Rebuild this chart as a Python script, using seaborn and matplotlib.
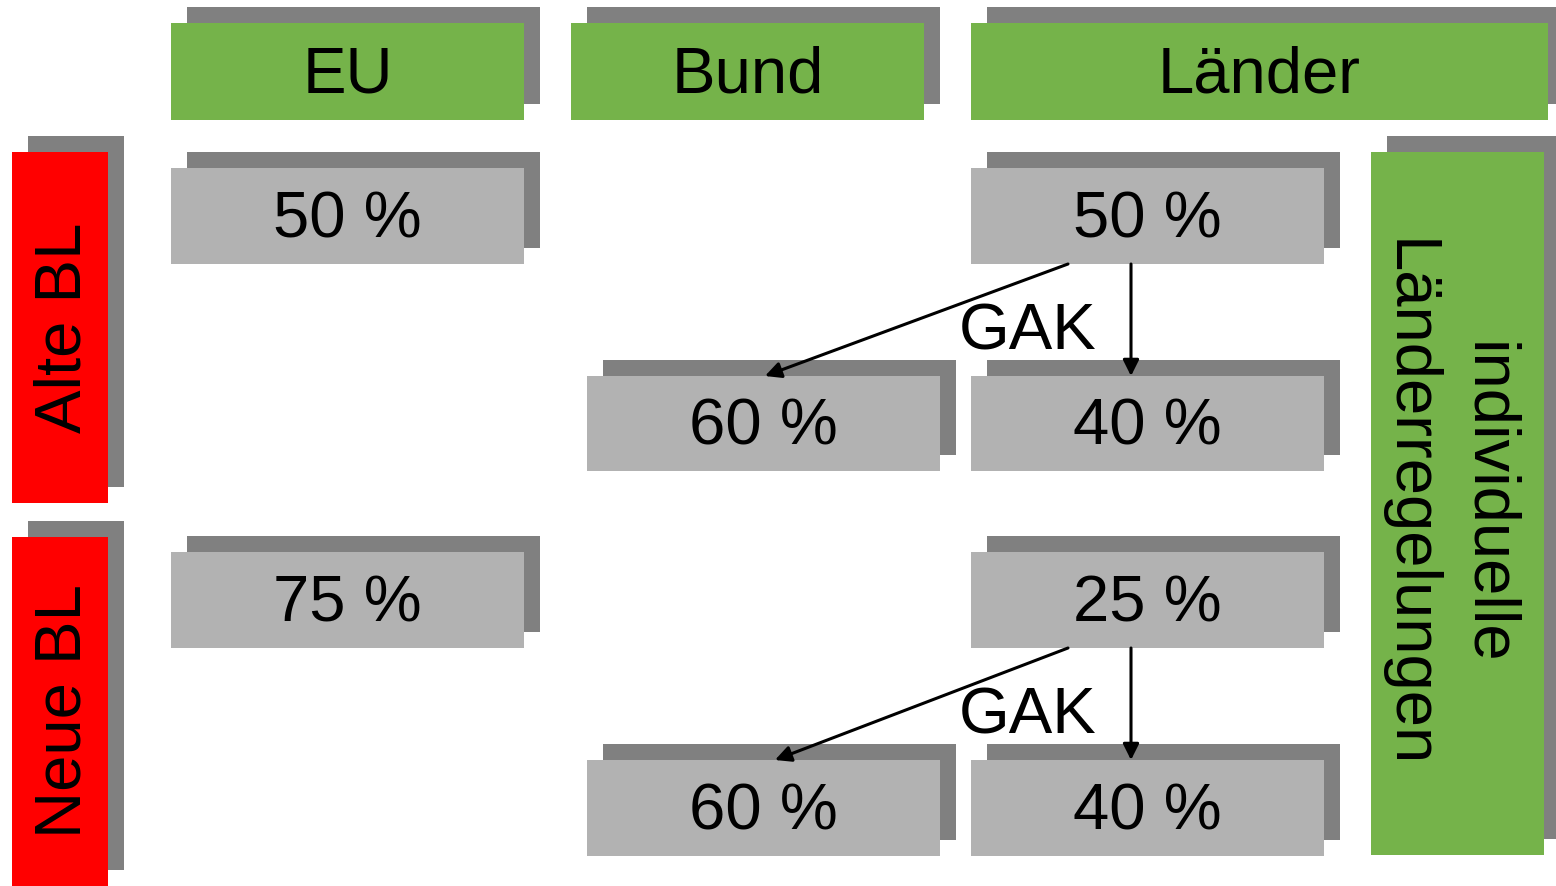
import matplotlib
matplotlib.use("Agg")
import matplotlib.pyplot as plt
from matplotlib.patches import Rectangle
import seaborn as sns

# ---- data ----
columns = ["EU", "Bund", "Länder"]
rows = ["Alte BL", "Neue BL"]
eu_share = [50, 75]
land_share = [50, 25]
bund_gak = [60, 60]
land_gak = [40, 40]
flow_label = "GAK"
side_note = "individuelle\nLänderregelungen"

# ---- style ----
sns.set_theme(style="white")
plt.rcParams['font.family'] = ['Liberation Sans', 'DejaVu Sans']

GREEN = "#75B34A"
RED = "#FF0000"
GREY = "#B2B2B2"
SHADOW = "#808080"
FS = 47
OFF = 16
TXT_SHIFT = 4

W, H = 1556, 886
fig = plt.figure(figsize=(W / 100, H / 100), dpi=100)
ax = fig.add_axes([0, 0, 1, 1])
ax.set_xlim(0, W)
ax.set_ylim(H, 0)
ax.axis("off")


def box(x0, y0, x1, y1, color, text=None, rot=0, ls=1.2, dx=0):
    ax.add_patch(Rectangle((x0 + OFF, y0 - OFF), x1 - x0, y1 - y0,
                           facecolor=SHADOW, edgecolor="none", zorder=1))
    ax.add_patch(Rectangle((x0, y0), x1 - x0, y1 - y0,
                           facecolor=color, edgecolor="none", zorder=2))
    if text is not None:
        cx, cy = (x0 + x1) / 2, (y0 + y1) / 2
        if rot == 0:
            cy += TXT_SHIFT
        elif rot == 90:
            cx += TXT_SHIFT
        else:
            cx -= TXT_SHIFT
        ax.text(cx + dx, cy, text, ha="center", va="center",
                rotation=rot, fontsize=FS, color="black", zorder=3,
                multialignment="center", linespacing=ls)


# column headers
col_x = [(171, 524), (571, 924), (971, 1548)]
for (x0, x1), name in zip(col_x, columns):
    box(x0, 23, x1, 120, GREEN, name)

# row blocks
row_y = [(152, 503), (537, 886)]
top_y = [(168, 264), (552, 648)]
bot_y = [(376, 471), (760, 856)]
for i, name in enumerate(rows):
    y0, y1 = row_y[i]
    box(12, y0, 108, y1, RED, name, rot=90)
    ty0, ty1 = top_y[i]
    by0, by1 = bot_y[i]
    box(171, ty0, 524, ty1, GREY, f"{eu_share[i]} %")
    box(971, ty0, 1324, ty1, GREY, f"{land_share[i]} %")
    box(587, by0, 940, by1, GREY, f"{bund_gak[i]} %")
    box(971, by0, 1324, by1, GREY, f"{land_gak[i]} %")
    ap = dict(arrowstyle="-|>", lw=2.2, color="black", mutation_scale=24,
              shrinkA=0, shrinkB=0)
    ax.annotate("", xy=(765 + (10 if i else 0), by0), xytext=(1068, ty1),
                arrowprops=ap, zorder=4)
    ax.annotate("", xy=(1131, by0), xytext=(1131, ty1),
                arrowprops=ap, zorder=4)
    ax.text(1028, (ty1 + by0) / 2 + 12, flow_label, ha="center", va="center",
            fontsize=FS, color="black", zorder=5)

# side note
box(1371, 152, 1544, 855, GREEN, side_note, rot=-90, ls=1.42, dx=-6)

fig.savefig("out.png", dpi=100, facecolor="white")
